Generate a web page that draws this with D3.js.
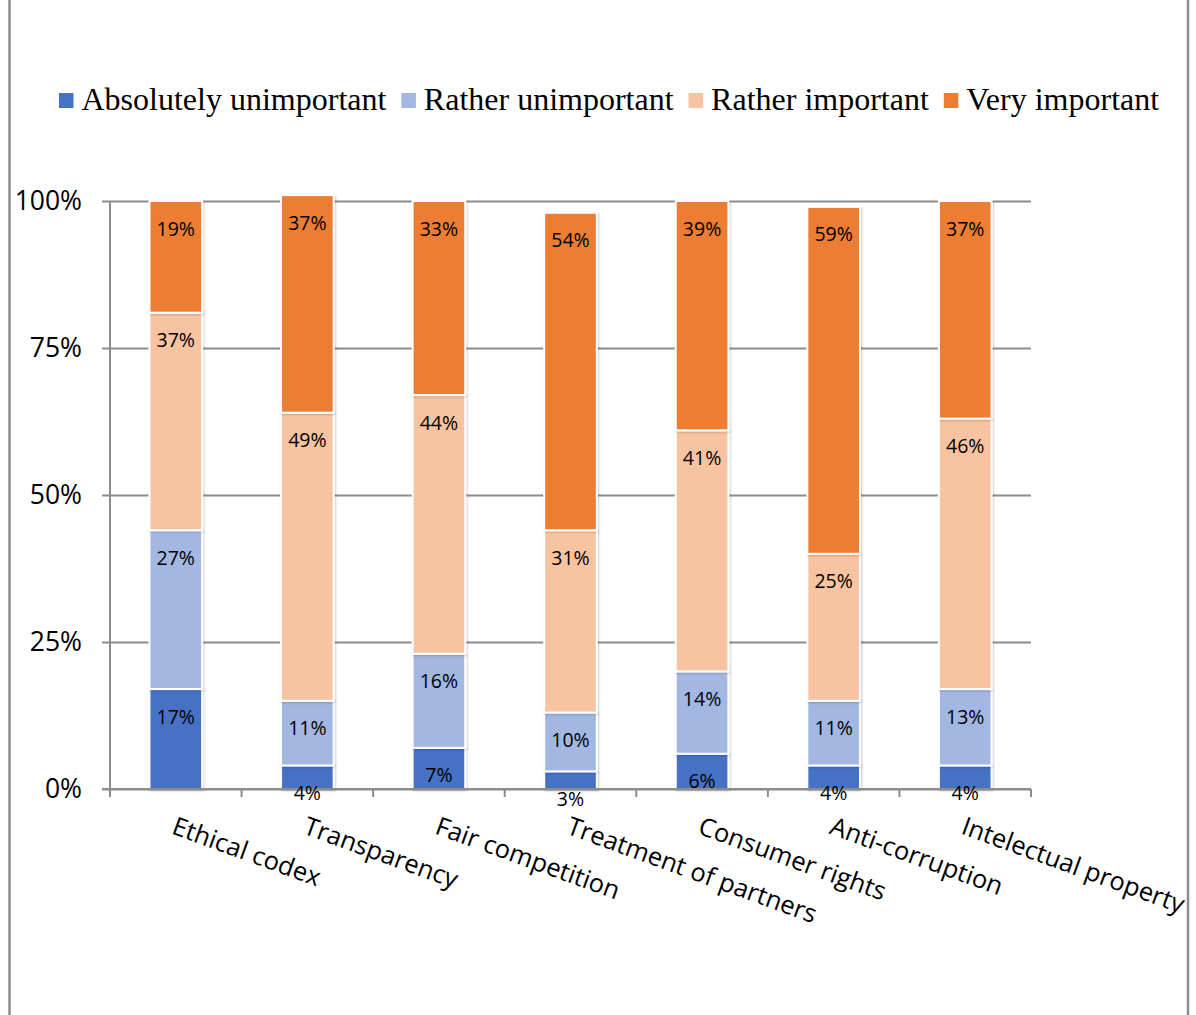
<!DOCTYPE html>
<html>
<head>
<meta charset="utf-8">
<script src="https://cdn.jsdelivr.net/npm/d3@7"></script>
<style>
  html, body { margin: 0; padding: 0; background: #fff; }
  svg { display: block; }
</style>
</head>
<body>
<svg id="chart" width="1196" height="1015"></svg>
<script>
// Survey: importance of business-ethics areas (share of respondents)
const categories = ["Ethical codex", "Transparency", "Fair competition", "Treatment of partners",
                    "Consumer rights", "Anti-corruption", "Intelectual property"];
const seriesNames = ["Absolutely unimportant", "Rather unimportant", "Rather important", "Very important"];
const absolutelyUnimportant = [17, 4, 7, 3, 6, 4, 4];
const ratherUnimportant     = [27, 11, 16, 10, 14, 11, 13];
const ratherImportant       = [37, 49, 44, 31, 41, 25, 46];
const veryImportant         = [19, 37, 33, 54, 39, 59, 37];
const yTicks = [0, 25, 50, 75, 100];
const seriesColors = ["#4472C4", "#A2B7E1", "#F8C3A0", "#ED7D31"];

const seriesValues = [absolutelyUnimportant, ratherUnimportant, ratherImportant, veryImportant];
const rows = categories.map((c, i) => {
  const r = { category: c };
  seriesNames.forEach((s, k) => { r[s] = seriesValues[k][i]; });
  return r;
});

const svg = d3.select("#chart");
const sans = "'Open Sans', 'Noto Sans', sans-serif";
const serif = "'Liberation Serif', 'DejaVu Serif', serif";
const gridColor = "#8c8c8c";

// outer frame edges
svg.append("line").attr("x1", 9.5).attr("x2", 9.5).attr("y1", 0).attr("y2", 1015)
  .attr("stroke", gridColor).attr("stroke-width", 2.5);
svg.append("line").attr("x1", 1188).attr("x2", 1188).attr("y1", 0).attr("y2", 1015)
  .attr("stroke", gridColor).attr("stroke-width", 2.5);

const plot = { left: 110, right: 1031, top: 201, bottom: 789 };

const x = d3.scaleBand().domain(categories)
  .range([plot.left, plot.right]).paddingInner(0.6).paddingOuter(0.3);
const y = d3.scaleLinear().domain([0, 100]).range([plot.bottom, plot.top]);

// horizontal gridlines + y labels
const yAxis = d3.axisLeft(y).tickValues(yTicks).tickSize(8).tickFormat(d => d + "%");
const yg = svg.append("g").attr("transform", `translate(${plot.left},0)`).call(yAxis);
yg.select(".domain").attr("stroke", gridColor).attr("stroke-width", 2)
  .attr("d", `M0,${plot.top}V${plot.bottom + 8}`);
yg.selectAll(".tick line").attr("stroke", gridColor).attr("stroke-width", 2)
  .attr("x1", -8).attr("x2", plot.right - plot.left);
yg.selectAll(".tick text").attr("x", -28).attr("fill", "#000")
  .style("font-family", sans).style("font-size", "26.5px");

// category axis: ticks at band boundaries
const step = x.step();
const xTickPositions = d3.range(categories.length + 1).map(i => plot.left + i * step);
svg.append("g").selectAll("line").data(xTickPositions).join("line")
  .attr("x1", d => d).attr("x2", d => d)
  .attr("y1", plot.bottom).attr("y2", plot.bottom + 8)
  .attr("stroke", gridColor).attr("stroke-width", 2);

// stacked bars
const stack = d3.stack().keys(seriesNames);
const stacked = stack(rows);

const defs = svg.append("defs");
const f = defs.append("filter").attr("id", "shadow")
  .attr("x", "-20%").attr("y", "-20%").attr("width", "140%").attr("height", "140%");
f.append("feDropShadow").attr("dx", 1).attr("dy", 1).attr("stdDeviation", 1.2)
  .attr("flood-color", "#000").attr("flood-opacity", 0.22);

const layers = svg.append("g").selectAll("g").data(stacked).join("g")
  .attr("fill", (d, k) => seriesColors[k]);

layers.selectAll("rect").data(d => d).join("rect")
  .attr("x", d => x(d.data.category))
  .attr("width", x.bandwidth())
  .attr("y", d => y(d[1]))
  .attr("height", d => y(d[0]) - y(d[1]))
  .attr("stroke", "#fff").attr("stroke-width", 2)
  .attr("filter", "url(#shadow)");

// x axis line drawn over bar bottoms
svg.append("line").attr("x1", plot.left - 8).attr("x2", plot.right)
  .attr("y1", plot.bottom).attr("y2", plot.bottom)
  .attr("stroke", gridColor).attr("stroke-width", 2);

// value labels near the top of each segment
const labels = svg.append("g");
stacked.forEach((layer, k) => {
  labels.selectAll(null).data(layer).join("text")
    .attr("x", d => x(d.data.category) + x.bandwidth() / 2)
    .attr("y", d => y(d[1]) + 27)
    .attr("text-anchor", "middle")
    .attr("dominant-baseline", "central")
    .attr("fill", "#000")
    .style("font-family", sans).style("font-size", "19.5px")
    .text(d => (d[1] - d[0]) + "%");
});

// rotated category labels
svg.append("g").selectAll("text").data(categories).join("text")
  .attr("transform", d => `translate(${x(d) + x.bandwidth() / 2 + 1},${plot.bottom + 27}) rotate(20)`)
  .attr("text-anchor", "start")
  .attr("dy", "0.72em")
  .attr("fill", "#000")
  .style("font-family", sans).style("font-size", "25.5px")
  .text(d => d);

// legend
const legend = svg.append("g").attr("transform", "translate(59,0)");
let lx = 0;
seriesNames.forEach((name, k) => {
  legend.append("rect").attr("x", lx).attr("y", 93).attr("width", 14.5).attr("height", 15)
    .attr("fill", seriesColors[k]);
  const t = legend.append("text").attr("x", lx + 22.5).attr("y", 110)
    .attr("fill", "#000")
    .style("font-family", serif).style("font-size", "32px")
    .text(name);
  lx += 22.5 + t.node().getComputedTextLength() + 15;
});
</script>
</body>
</html>
